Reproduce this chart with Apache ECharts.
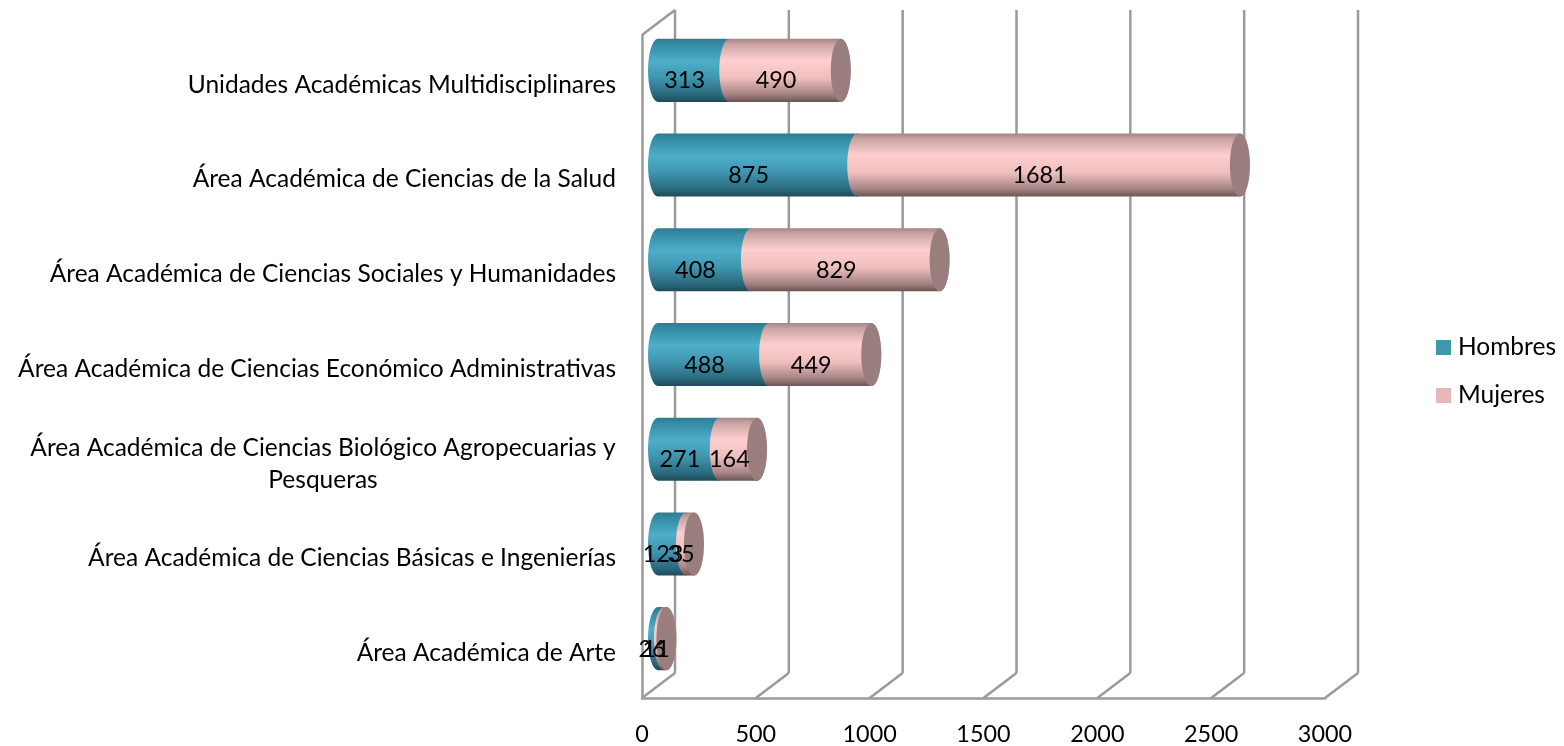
<!DOCTYPE html>
<html><head><meta charset="utf-8">
<script src="https://cdn.jsdelivr.net/npm/echarts@6/dist/echarts.min.js"></script>
<style>html,body{margin:0;padding:0;background:#fff}#c{width:1564px;height:746px}</style>
</head><body><div id="c"></div>
<script>
const categories = [
  "Área Académica de Arte",
  "Área Académica de Ciencias Básicas e Ingenierías",
  "Área Académica de Ciencias Biológico Agropecuarias y\nPesqueras",
  "Área Académica de Ciencias Económico Administrativas",
  "Área Académica de Ciencias Sociales y Humanidades",
  "Área Académica de Ciencias de la Salud",
  "Unidades Académicas Multidisciplinares"
];
const hombres = [26, 123, 271, 488, 408, 875, 313];
const mujeres = [11, 35, 164, 449, 829, 1681, 490];
const ticks = [0, 500, 1000, 1500, 2000, 2500, 3000];

const FONT = 'Lato';
const FS_NUM = 23.4;
const FS_TXT = 24.5;
const GRID_COLOR = '#9a9a9a';
const DX = 33, DY = -25;      // wall depth
const BX = 16, BY = -12;      // bar position inside the depth
const RX = 10;                // cap half-width
const LG = (stops) => new echarts.graphic.LinearGradient(0, 0, 0, 1,
  stops.map(s => ({offset: s[0], color: s[1]})));
const tealFill = () => LG([[0,'#2f7a90'],[0.08,'#338aa3'],[0.36,'#4eaeca'],[0.62,'#3f95af'],[0.88,'#2a6a7f'],[1,'#1e4a58']]);
const pinkFill = () => LG([[0,'#a68484'],[0.08,'#c8a2a2'],[0.34,'#ffcfcf'],[0.62,'#efbfbf'],[0.87,'#a88585'],[1,'#6c5555']]);

function segment(fillFn, withCap) {
  return function (params, api) {
    const start = api.value(0), val = api.value(1), cat = api.value(2);
    const p0 = api.coord([start, cat]);
    const p1 = api.coord([start + val, cat]);
    const band = api.size([0, 1])[1];
    const ry = band * 0.333;
    const x0 = p0[0] + BX, x1 = p1[0] + BX, yc = p0[1] + BY;
    const d = `M${x0} ${yc - ry} L${x1} ${yc - ry} A${RX} ${ry} 0 0 1 ${x1} ${yc + ry} ` +
              `L${x0} ${yc + ry} A${RX} ${ry} 0 0 1 ${x0} ${yc - ry} Z`;
    const children = [{type: 'path', shape: {pathData: d}, style: {fill: fillFn(), stroke: null}}];
    if (withCap) {
      children.push({type: 'ellipse', shape: {cx: x1, cy: yc, rx: RX, ry: ry},
        style: {fill: '#9a7e7e', stroke: null}});
    }
    const mid = api.coord([start + val / 2, cat]);
    children.push({type: 'text', z2: 200, style: {
      text: String(val), x: mid[0] + 7, y: mid[1] - 1.5,
      fill: '#000', fontSize: FS_NUM, fontFamily: FONT,
      textAlign: 'center', textVerticalAlign: 'middle'}});
    return {type: 'group', children};
  };
}

function wall(params, api) {
  const v = api.value(0);
  const cs = params.coordSys;
  const p = api.coord([v, 0]);
  const x = p[0], yb = cs.y + cs.height, yt = cs.y;
  const st = {stroke: GRID_COLOR, lineWidth: 2.5, fill: null};
  const children = [
    {type: 'line', shape: {x1: x, y1: yb, x2: x + DX, y2: yb + DY}, style: st},
    {type: 'line', shape: {x1: x + DX, y1: yb + DY, x2: x + DX, y2: yt + DY}, style: st}
  ];
  if (v === 0) {
    children.push({type: 'line', shape: {x1: x, y1: yt, x2: x + DX, y2: yt + DY}, style: st});
  }
  return {type: 'group', children};
}

const option = {
  animation: false,
  backgroundColor: '#fff',
  textStyle: {fontFamily: FONT},
  grid: {left: 642, top: 35, width: 683, height: 663, containLabel: false},
  legend: {
    data: ['Hombres', 'Mujeres'], orient: 'vertical', left: 1436, top: 335, padding: 0,
    icon: 'rect', itemWidth: 15, itemHeight: 15, itemGap: 23, selectedMode: false,
    textStyle: {fontFamily: FONT, fontSize: FS_TXT, color: '#000', padding: [0, 0, 0, 2]}
  },
  xAxis: {
    type: 'value', min: 0, max: 3000, interval: 500,
    splitLine: {show: false},
    axisTick: {show: false},
    axisLine: {show: true, lineStyle: {color: GRID_COLOR, width: 2.5}},
    axisLabel: {fontFamily: FONT, fontSize: FS_NUM, color: '#000', margin: 25,
      formatter: v => ticks.includes(v) ? String(v) : ''}
  },
  yAxis: {
    type: 'category', data: categories,
    axisTick: {show: false},
    splitLine: {show: false},
    axisLine: {show: true, onZero: false, lineStyle: {color: GRID_COLOR, width: 2.5}},
    axisLabel: {
      fontFamily: FONT, fontSize: FS_TXT, color: '#000', margin: 26, lineHeight: 32,
      padding: [5, 0, 0, 0],
      formatter: v => v.includes('\n') ? v.split('\n').map(s => `{c|${s}}`).join('\n') : v,
      rich: {c: {width: 586, align: 'center', fontFamily: FONT, fontSize: FS_TXT, color: '#000', lineHeight: 32}}
    }
  },
  series: [
    {name: 'grid-walls', type: 'custom', z: 1, silent: true, clip: false,
      encode: {x: 0}, data: ticks.map(v => [v, 0]), renderItem: wall},
    {name: 'Hombres', type: 'custom', z: 2, silent: true, clip: false,
      itemStyle: {color: '#3f97b0'},
      encode: {x: 1, y: 2},
      data: hombres.map((v, i) => [0, v, i]),
      renderItem: segment(tealFill, false)},
    {name: 'Mujeres', type: 'custom', z: 2, silent: true, clip: false,
      itemStyle: {color: '#e8b7b7'},
      encode: {x: 1, y: 2},
      data: mujeres.map((v, i) => [hombres[i], v, i]),
      renderItem: segment(pinkFill, true)}
  ]
};
echarts.init(document.getElementById('c'), null, {renderer: 'canvas'}).setOption(option);
</script></body></html>
